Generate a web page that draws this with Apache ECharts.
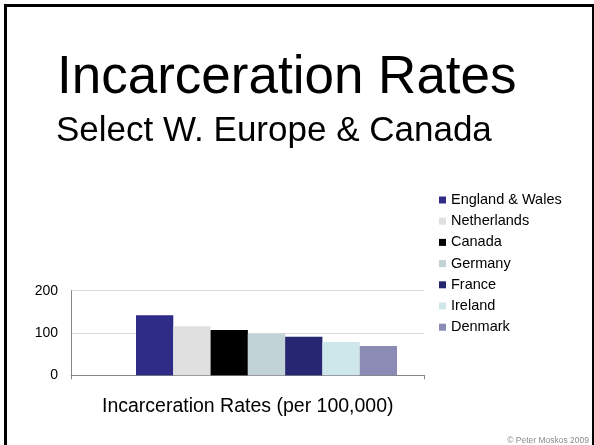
<!DOCTYPE html>
<html>
<head>
<meta charset="utf-8">
<script src="https://cdn.jsdelivr.net/npm/echarts@6/dist/echarts.min.js"></script>
<style>
  html, body { margin: 0; padding: 0; background: #fff; }
  #chart { width: 594px; height: 445px; }
</style>
</head>
<body>
<div id="chart"></div>
<script>
// ---- data ----
const categories = ['Incarceration Rates (per 100,000)'];
const countries = ['England & Wales', 'Netherlands', 'Canada', 'Germany', 'France', 'Ireland', 'Denmark'];
const rates = [142, 116, 107, 98, 91, 79, 69];
const yMin = 0, yMax = 200, yInterval = 100;
const titleText = 'Incarceration Rates';
const subtitleText = 'Select W. Europe & Canada';
const creditText = '\u00A9 Peter Moskos 2009';

// ---- styles ----
const colors = ['#2e2c86', '#e0e0e0', '#000000', '#c1d3d7', '#262672', '#cee7eb', '#8b8bb6'];
const FONT = '"Liberation Sans", Arial, sans-serif';

const chart = echarts.init(document.getElementById('chart'), null, { renderer: 'canvas' });

const series = countries.map((name, i) => ({
  name: name,
  type: 'bar',
  xAxisIndex: 1,
  yAxisIndex: 1,
  data: [rates[i]],
  barGap: '0%',
  barCategoryGap: '0%',
  itemStyle: { color: colors[i] },
  silent: true,
  animation: false
}));

chart.setOption({
  animation: false,
  backgroundColor: '#ffffff',
  title: [
    { text: titleText, left: 57, top: 52, padding: 0,
      textStyle: { fontFamily: FONT, fontSize: 53, fontWeight: 'normal', color: '#000' } },
    { text: subtitleText, left: 56, top: 114, padding: 0,
      textStyle: { fontFamily: FONT, fontSize: 35, fontWeight: 'normal', color: '#000' } },
    { text: creditText, right: 5, top: 436, padding: 0,
      textStyle: { fontFamily: FONT, fontSize: 8.5, fontWeight: 'normal', color: '#8a8a8a' } }
  ],
  legend: {
    orient: 'vertical',
    left: 439,
    top: 192.5,
    padding: 0,
    itemWidth: 7,
    itemHeight: 7,
    itemGap: 6.2,
    icon: 'rect',
    data: countries,
    selectedMode: false,
    textStyle: { fontFamily: FONT, fontSize: 14.5, color: '#000', lineHeight: 14.5, padding: [0, 0, 0, 0] }
  },
  grid: [
    { left: 71, right: 169.5, top: 290.7, bottom: 69.7, containLabel: false },
    { left: 136, right: 197, top: 290.7, bottom: 69.7, containLabel: false }
  ],
  xAxis: [
    {
      type: 'category', gridIndex: 0, data: categories,
      axisLine: { show: true, lineStyle: { color: '#868686', width: 1 } },
      axisTick: { show: true, length: 4, lineStyle: { color: '#868686' } },
      axisLabel: { show: true, margin: 21, fontFamily: FONT, fontSize: 19.5, color: '#000' }
    },
    { type: 'category', gridIndex: 1, data: categories, show: false }
  ],
  yAxis: [
    {
      type: 'value', gridIndex: 0, min: yMin, max: yMax, interval: yInterval,
      axisLine: { show: true, lineStyle: { color: '#868686', width: 1 } },
      axisTick: { show: false },
      axisLabel: { margin: 13, fontFamily: FONT, fontSize: 14, color: '#000' },
      splitLine: { show: true, lineStyle: { color: '#d9d9d9', width: 1 } }
    },
    { type: 'value', gridIndex: 1, min: yMin, max: yMax, interval: yInterval, show: false, splitLine: { show: false } }
  ],
  series: series,
  graphic: [
    {
      type: 'rect', silent: true, z: 100,
      shape: { x: 5.5, y: 5.5, width: 588, height: 450 },
      style: { fill: null, stroke: '#000', lineWidth: 3 }
    }
  ]
});
</script>
</body>
</html>
